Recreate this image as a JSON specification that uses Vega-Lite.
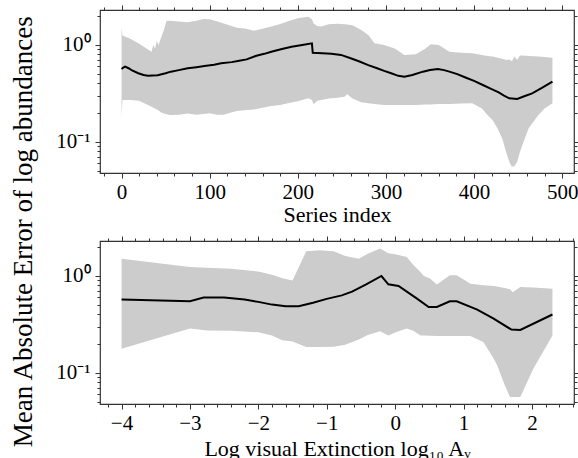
{
  "$schema": "https://vega.github.io/schema/vega-lite/v6.json",
  "padding": {"left": 10, "top": 3, "right": 0, "bottom": 0},
  "background": "white",
  "title": {"text": "Mean Absolute Error of log abundances", "orient": "left", "anchor": "middle", "fontSize": 27, "font": "Liberation Serif", "fontWeight": "normal", "color": "black", "offset": 17},
  "bounds": "flush",
  "spacing": 68,
  "datasets": {
    "topBand": [
      {"i": 0, "lo": 0.18, "hi": 1.5}, {"i": 1, "lo": 0.27, "hi": 1.25}, {"i": 10, "lo": 0.27, "hi": 1.16}, {"i": 20, "lo": 0.265, "hi": 1.03},
      {"i": 30, "lo": 0.24, "hi": 0.9}, {"i": 34, "lo": 0.23, "hi": 0.85}, {"i": 36, "lo": 0.225, "hi": 1.0}, {"i": 38, "lo": 0.22, "hi": 0.92},
      {"i": 40, "lo": 0.215, "hi": 1.1}, {"i": 42, "lo": 0.21, "hi": 1.0}, {"i": 45, "lo": 0.2, "hi": 1.2}, {"i": 48, "lo": 0.196, "hi": 1.43},
      {"i": 51, "lo": 0.192, "hi": 1.77}, {"i": 55, "lo": 0.189, "hi": 1.78}, {"i": 65, "lo": 0.19, "hi": 1.75}, {"i": 75, "lo": 0.196, "hi": 1.72},
      {"i": 85, "lo": 0.19, "hi": 1.78}, {"i": 93, "lo": 0.193, "hi": 1.86}, {"i": 100, "lo": 0.197, "hi": 1.84}, {"i": 108, "lo": 0.19, "hi": 1.76},
      {"i": 116, "lo": 0.19, "hi": 1.67}, {"i": 124, "lo": 0.2, "hi": 1.58}, {"i": 131, "lo": 0.208, "hi": 1.51}, {"i": 140, "lo": 0.212, "hi": 1.48},
      {"i": 150, "lo": 0.215, "hi": 1.4}, {"i": 160, "lo": 0.225, "hi": 1.47}, {"i": 170, "lo": 0.234, "hi": 1.55}, {"i": 180, "lo": 0.24, "hi": 1.65},
      {"i": 190, "lo": 0.252, "hi": 1.77}, {"i": 200, "lo": 0.262, "hi": 1.89}, {"i": 212, "lo": 0.281, "hi": 1.96}, {"i": 216, "lo": 0.27, "hi": 1.85},
      {"i": 218, "lo": 0.244, "hi": 1.67}, {"i": 222, "lo": 0.265, "hi": 1.57}, {"i": 227, "lo": 0.27, "hi": 1.55}, {"i": 235, "lo": 0.28, "hi": 1.64},
      {"i": 245, "lo": 0.285, "hi": 1.66}, {"i": 253, "lo": 0.292, "hi": 1.64}, {"i": 256, "lo": 0.31, "hi": 1.63}, {"i": 262, "lo": 0.28, "hi": 1.6},
      {"i": 272, "lo": 0.256, "hi": 1.43}, {"i": 280, "lo": 0.25, "hi": 1.27}, {"i": 287, "lo": 0.245, "hi": 1.04}, {"i": 298, "lo": 0.24, "hi": 1.0},
      {"i": 310, "lo": 0.24, "hi": 0.92}, {"i": 321, "lo": 0.24, "hi": 0.79}, {"i": 334, "lo": 0.24, "hi": 0.8}, {"i": 345, "lo": 0.242, "hi": 0.92},
      {"i": 351, "lo": 0.243, "hi": 1.02}, {"i": 360, "lo": 0.245, "hi": 1.0}, {"i": 372, "lo": 0.246, "hi": 0.85}, {"i": 385, "lo": 0.248, "hi": 0.83},
      {"i": 398, "lo": 0.25, "hi": 0.82}, {"i": 409, "lo": 0.22, "hi": 0.79}, {"i": 415, "lo": 0.19, "hi": 0.77}, {"i": 421, "lo": 0.168, "hi": 0.76},
      {"i": 427, "lo": 0.135, "hi": 0.74}, {"i": 432, "lo": 0.108, "hi": 0.72}, {"i": 437, "lo": 0.075, "hi": 0.7}, {"i": 440, "lo": 0.062, "hi": 0.71},
      {"i": 443, "lo": 0.055, "hi": 0.68}, {"i": 446, "lo": 0.056, "hi": 0.76}, {"i": 449, "lo": 0.062, "hi": 0.7}, {"i": 452, "lo": 0.078, "hi": 0.78},
      {"i": 455, "lo": 0.093, "hi": 0.78}, {"i": 462, "lo": 0.138, "hi": 0.77}, {"i": 473, "lo": 0.189, "hi": 0.76}, {"i": 480, "lo": 0.22, "hi": 0.75},
      {"i": 489, "lo": 0.25, "hi": 0.74}
    ],
    "topMean": [
      {"i": 0, "m": 0.565}, {"i": 2, "m": 0.585}, {"i": 4, "m": 0.597}, {"i": 8, "m": 0.575}, {"i": 12, "m": 0.545}, {"i": 19, "m": 0.51},
      {"i": 25, "m": 0.49}, {"i": 30, "m": 0.482}, {"i": 41, "m": 0.486}, {"i": 50, "m": 0.51}, {"i": 56, "m": 0.53}, {"i": 65, "m": 0.55},
      {"i": 75, "m": 0.574}, {"i": 85, "m": 0.59}, {"i": 94, "m": 0.607}, {"i": 105, "m": 0.625}, {"i": 113, "m": 0.646}, {"i": 125, "m": 0.665},
      {"i": 132, "m": 0.683}, {"i": 142, "m": 0.71}, {"i": 153, "m": 0.775}, {"i": 162, "m": 0.81}, {"i": 170, "m": 0.853}, {"i": 182, "m": 0.91},
      {"i": 193, "m": 0.96}, {"i": 205, "m": 1.0}, {"i": 216, "m": 1.04}, {"i": 217, "m": 0.83}, {"i": 228, "m": 0.82}, {"i": 238, "m": 0.81},
      {"i": 249, "m": 0.79}, {"i": 260, "m": 0.73}, {"i": 270, "m": 0.675}, {"i": 280, "m": 0.62}, {"i": 290, "m": 0.575}, {"i": 298, "m": 0.54},
      {"i": 306, "m": 0.51}, {"i": 314, "m": 0.48}, {"i": 321, "m": 0.47}, {"i": 330, "m": 0.49}, {"i": 342, "m": 0.53}, {"i": 350, "m": 0.55},
      {"i": 359, "m": 0.565}, {"i": 366, "m": 0.55}, {"i": 372, "m": 0.53}, {"i": 381, "m": 0.5}, {"i": 391, "m": 0.459}, {"i": 400, "m": 0.425},
      {"i": 410, "m": 0.386}, {"i": 420, "m": 0.35}, {"i": 428, "m": 0.324}, {"i": 434, "m": 0.3}, {"i": 440, "m": 0.281}, {"i": 449, "m": 0.277},
      {"i": 457, "m": 0.295}, {"i": 466, "m": 0.316}, {"i": 477, "m": 0.36}, {"i": 489, "m": 0.418}
    ],
    "botBand": [
      {"a": -4, "lo": 0.177, "hi": 1.51}, {"a": -3, "lo": 0.286, "hi": 1.24}, {"a": -2.75, "lo": 0.274, "hi": 1.22}, {"a": -2.4, "lo": 0.272, "hi": 1.19},
      {"a": -2.0, "lo": 0.262, "hi": 1.11}, {"a": -1.8, "lo": 0.243, "hi": 1.03}, {"a": -1.65, "lo": 0.216, "hi": 0.95}, {"a": -1.5, "lo": 0.21, "hi": 0.9},
      {"a": -1.3, "lo": 0.184, "hi": 1.8}, {"a": -1.1, "lo": 0.184, "hi": 1.84}, {"a": -0.9, "lo": 0.186, "hi": 1.8}, {"a": -0.73, "lo": 0.195, "hi": 1.61},
      {"a": -0.53, "lo": 0.22, "hi": 1.51}, {"a": -0.4, "lo": 0.245, "hi": 1.7}, {"a": -0.22, "lo": 0.268, "hi": 1.92}, {"a": -0.1, "lo": 0.243, "hi": 1.72},
      {"a": 0.0, "lo": 0.26, "hi": 1.68}, {"a": 0.17, "lo": 0.286, "hi": 1.57}, {"a": 0.27, "lo": 0.27, "hi": 1.29}, {"a": 0.37, "lo": 0.243, "hi": 1.1},
      {"a": 0.42, "lo": 0.242, "hi": 1.0}, {"a": 0.51, "lo": 0.241, "hi": 0.94}, {"a": 0.61, "lo": 0.24, "hi": 0.815}, {"a": 0.8, "lo": 0.24, "hi": 1.02},
      {"a": 0.9, "lo": 0.24, "hi": 1.02}, {"a": 1.1, "lo": 0.24, "hi": 0.83}, {"a": 1.29, "lo": 0.208, "hi": 0.8}, {"a": 1.44, "lo": 0.14, "hi": 0.79},
      {"a": 1.49, "lo": 0.12, "hi": 0.78}, {"a": 1.6, "lo": 0.075, "hi": 0.75}, {"a": 1.68, "lo": 0.056, "hi": 0.73}, {"a": 1.72, "lo": 0.056, "hi": 0.68},
      {"a": 1.83, "lo": 0.056, "hi": 0.77}, {"a": 2.02, "lo": 0.11, "hi": 0.76}, {"a": 2.3, "lo": 0.243, "hi": 0.74}
    ],
    "botMean": [
      {"a": -4, "m": 0.57}, {"a": -3, "m": 0.548}, {"a": -2.8, "m": 0.598}, {"a": -2.5, "m": 0.598}, {"a": -2.2, "m": 0.57}, {"a": -2.0, "m": 0.54},
      {"a": -1.8, "m": 0.506}, {"a": -1.6, "m": 0.486}, {"a": -1.41, "m": 0.488}, {"a": -1.2, "m": 0.53}, {"a": -1.0, "m": 0.58}, {"a": -0.78, "m": 0.63},
      {"a": -0.63, "m": 0.69}, {"a": -0.43, "m": 0.815}, {"a": -0.2, "m": 1.0}, {"a": -0.1, "m": 0.82}, {"a": 0.05, "m": 0.79}, {"a": 0.25, "m": 0.63},
      {"a": 0.32, "m": 0.584}, {"a": 0.49, "m": 0.478}, {"a": 0.61, "m": 0.478}, {"a": 0.8, "m": 0.548}, {"a": 0.9, "m": 0.548}, {"a": 1.2, "m": 0.45},
      {"a": 1.44, "m": 0.363}, {"a": 1.7, "m": 0.279}, {"a": 1.83, "m": 0.277}, {"a": 2.3, "m": 0.4}
    ]
  },
  "vconcat": [
    {
      "width": 474,
      "height": 163,
      "layer": [
        {
          "data": {"name": "topBand"},
          "mark": {"type": "area", "color": "#cccccc"},
          "encoding": {
            "x": {"field": "i", "type": "quantitative", "scale": {"domain": [-24.45, 513.45], "nice": false, "zero": false},
              "axis": {"orient": "bottom", "values": [0, 100, 200, 300, 400, 500], "format": "d", "tickSize": 5, "labelPadding": 3, "title": "Series index", "titlePadding": 2}},
            "y": {"field": "lo", "type": "quantitative", "scale": {"type": "log", "domain": [0.0475, 2.3], "nice": false},
              "axis": {"orient": "left", "values": [0.1, 1], "tickSize": 5, "labelPadding": 5, "title": null, "labelExpr": "datum.value == 1 ? '10⁰' : '10⁻¹'"}},
            "y2": {"field": "hi"}
          }
        },
        {
          "data": {"name": "topMean"},
          "mark": {"type": "line", "color": "black", "strokeWidth": 2},
          "encoding": {
            "x": {"field": "i", "type": "quantitative", "axis": {"orient": "top", "values": [0, 100, 200, 300, 400, 500], "tickSize": 5, "labels": false, "title": null}},
            "y": {"field": "m", "type": "quantitative", "axis": {"orient": "right", "values": [0.1, 1], "tickSize": 5, "labels": false, "title": null}}
          }
        },
        {
          "data": {"name": "topMean"},
          "mark": {"type": "line", "strokeOpacity": 0},
          "encoding": {
            "x": {"field": "i", "type": "quantitative", "axis": {"orient": "bottom", "values": [-20, 20, 40, 60, 80, 120, 140, 160, 180, 220, 240, 260, 280, 320, 340, 360, 380, 420, 440, 460, 480], "tickSize": 3, "labels": false, "title": null}},
            "y": {"field": "m", "type": "quantitative", "axis": {"orient": "left", "values": [0.05, 0.06, 0.07, 0.08, 0.09, 0.2, 0.3, 0.4, 0.5, 0.6, 0.7, 0.8, 0.9, 2], "tickSize": 3, "labels": false, "title": null}}
          }
        },
        {
          "data": {"name": "topMean"},
          "mark": {"type": "line", "strokeOpacity": 0},
          "encoding": {
            "x": {"field": "i", "type": "quantitative", "axis": {"orient": "top", "values": [-20, 20, 40, 60, 80, 120, 140, 160, 180, 220, 240, 260, 280, 320, 340, 360, 380, 420, 440, 460, 480], "tickSize": 3, "labels": false, "title": null}},
            "y": {"field": "m", "type": "quantitative", "axis": {"orient": "right", "values": [0.05, 0.06, 0.07, 0.08, 0.09, 0.2, 0.3, 0.4, 0.5, 0.6, 0.7, 0.8, 0.9, 2], "tickSize": 3, "labels": false, "title": null}}
          }
        }
      ],
      "resolve": {"axis": {"x": "independent", "y": "independent"}}
    },
    {
      "width": 474,
      "height": 163,
      "layer": [
        {
          "data": {"name": "botBand"},
          "mark": {"type": "area", "color": "#cccccc"},
          "encoding": {
            "x": {"field": "a", "type": "quantitative", "scale": {"domain": [-4.315, 2.615], "nice": false, "zero": false},
              "axis": {"orient": "bottom", "values": [-4, -3, -2, -1, 0, 1, 2], "format": "d", "tickSize": 5, "labelPadding": 3, "title": "Log visual Extinction log₁₀ Aᵥ", "titlePadding": 5, "labelExpr": "replace(datum.label, '-', '−')"}},
            "y": {"field": "lo", "type": "quantitative", "scale": {"type": "log", "domain": [0.0475, 2.3], "nice": false},
              "axis": {"orient": "left", "values": [0.1, 1], "tickSize": 5, "labelPadding": 5, "title": null, "labelExpr": "datum.value == 1 ? '10⁰' : '10⁻¹'"}},
            "y2": {"field": "hi"}
          }
        },
        {
          "data": {"name": "botMean"},
          "mark": {"type": "line", "color": "black", "strokeWidth": 2},
          "encoding": {
            "x": {"field": "a", "type": "quantitative", "axis": {"orient": "top", "values": [-4, -3, -2, -1, 0, 1, 2], "tickSize": 5, "labels": false, "title": null}},
            "y": {"field": "m", "type": "quantitative", "axis": {"orient": "right", "values": [0.1, 1], "tickSize": 5, "labels": false, "title": null}}
          }
        },
        {
          "data": {"name": "botMean"},
          "mark": {"type": "line", "strokeOpacity": 0},
          "encoding": {
            "x": {"field": "a", "type": "quantitative", "axis": {"orient": "bottom", "values": [-4.2, -3.8, -3.6, -3.4, -3.2, -2.8, -2.6, -2.4, -2.2, -1.8, -1.6, -1.4, -1.2, -0.8, -0.6, -0.4, -0.2, 0.2, 0.4, 0.6, 0.8, 1.2, 1.4, 1.6, 1.8, 2.2, 2.4, 2.6], "tickSize": 3, "labels": false, "title": null}},
            "y": {"field": "m", "type": "quantitative", "axis": {"orient": "left", "values": [0.05, 0.06, 0.07, 0.08, 0.09, 0.2, 0.3, 0.4, 0.5, 0.6, 0.7, 0.8, 0.9, 2], "tickSize": 3, "labels": false, "title": null}}
          }
        },
        {
          "data": {"name": "botMean"},
          "mark": {"type": "line", "strokeOpacity": 0},
          "encoding": {
            "x": {"field": "a", "type": "quantitative", "axis": {"orient": "top", "values": [-4.2, -3.8, -3.6, -3.4, -3.2, -2.8, -2.6, -2.4, -2.2, -1.8, -1.6, -1.4, -1.2, -0.8, -0.6, -0.4, -0.2, 0.2, 0.4, 0.6, 0.8, 1.2, 1.4, 1.6, 1.8, 2.2, 2.4, 2.6], "tickSize": 3, "labels": false, "title": null}},
            "y": {"field": "m", "type": "quantitative", "axis": {"orient": "right", "values": [0.05, 0.06, 0.07, 0.08, 0.09, 0.2, 0.3, 0.4, 0.5, 0.6, 0.7, 0.8, 0.9, 2], "tickSize": 3, "labels": false, "title": null}}
          }
        }
      ],
      "resolve": {"axis": {"x": "independent", "y": "independent"}}
    }
  ],
  "config": {
    "view": {"stroke": "#333333", "strokeWidth": 1.2},
    "axis": {"grid": false, "domain": false, "tickColor": "#333333", "tickWidth": 1, "labelFont": "Liberation Serif", "titleFont": "Liberation Serif", "labelFontSize": 21, "titleFontSize": 22, "labelColor": "black", "titleColor": "black", "titleFontWeight": "normal", "labelOverlap": false, "labelFlush": false}
  }
}
